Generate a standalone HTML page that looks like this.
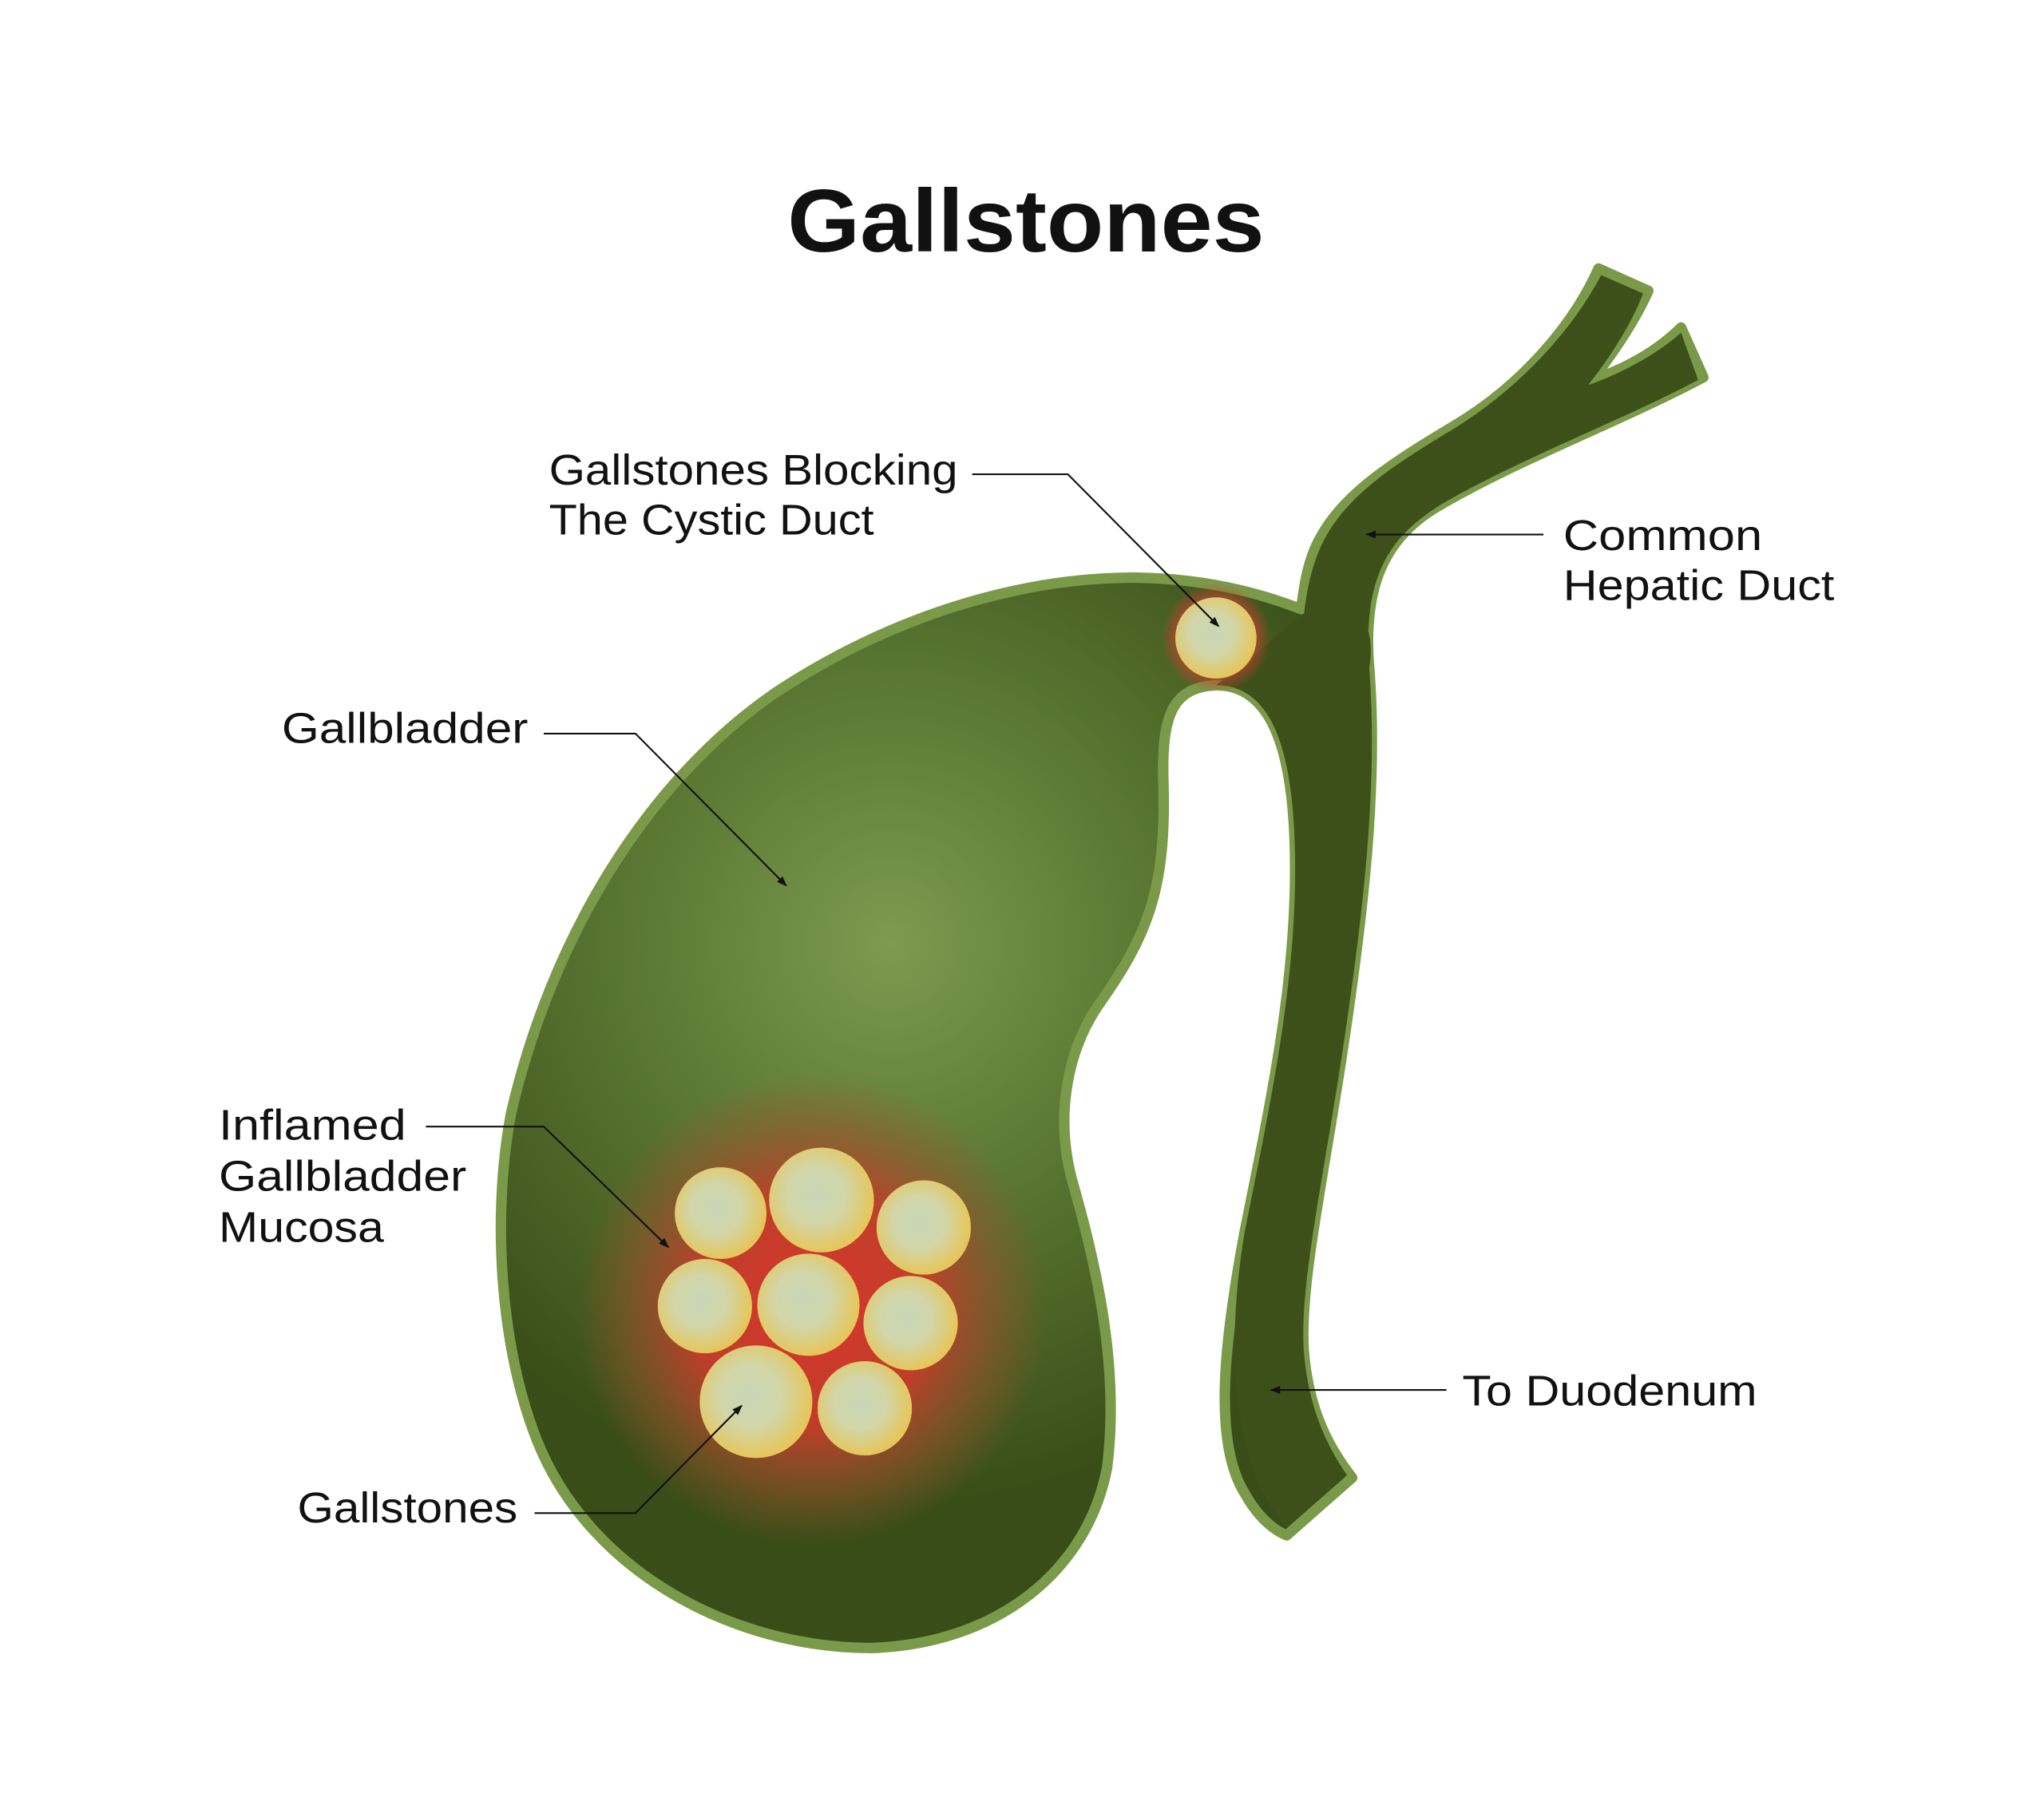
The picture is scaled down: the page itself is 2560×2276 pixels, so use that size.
<!DOCTYPE html>
<html><head><style>html,body{margin:0;padding:0;background:#fff}svg{display:block}</style></head>
<body>
<svg width="2560" height="2276" viewBox="0 0 1560 1387" preserveAspectRatio="none" xmlns="http://www.w3.org/2000/svg">
<defs>
<radialGradient id="g1" cx="680" cy="720" r="430" gradientUnits="userSpaceOnUse">
<stop offset="0" stop-color="#7e9a50"/><stop offset="0.4" stop-color="#5f7c36"/><stop offset="1" stop-color="#384d17"/>
</radialGradient>
<radialGradient id="red" cx="620" cy="1000" r="180" gradientUnits="userSpaceOnUse">
<stop offset="0" stop-color="#d8352a"/><stop offset="0.5" stop-color="#cc3a2a" stop-opacity="0.9"/><stop offset="0.8" stop-color="#a0502c" stop-opacity="0.45"/><stop offset="1" stop-color="#a0502c" stop-opacity="0"/>
</radialGradient>
<radialGradient id="st" cx="0.45" cy="0.45" r="0.55">
<stop offset="0" stop-color="#c9d5b8"/><stop offset="0.5" stop-color="#d2d6a8"/><stop offset="1" stop-color="#e6c65a"/>
</radialGradient>
<radialGradient id="rs" cx="928" cy="487" r="42" gradientUnits="userSpaceOnUse">
<stop offset="0.7" stop-color="#c84030" stop-opacity="0.7"/><stop offset="1" stop-color="#c84030" stop-opacity="0"/>
</radialGradient>
<marker id="a" markerWidth="8" markerHeight="8" refX="7" refY="4" orient="auto" markerUnits="userSpaceOnUse"><path d="M0,1 L8,4 L0,7 z" fill="#111"/></marker>
</defs>
<text x="601" y="192" textLength="364" lengthAdjust="spacingAndGlyphs" font-family="Liberation Sans, sans-serif" font-weight="bold" font-size="68" fill="#111">Gallstones</text>
<path d="M993,465 C960,452 920,442 870,441 C780,440 680,470 590,530 C490,600 420,720 390,850 C375,930 382,1030 410,1100 C450,1200 560,1258 665,1258 C760,1255 830,1200 845,1120 C855,1040 835,960 818,900 C805,850 815,800 840,765 C875,715 890,680 888,600 C886,545 895,525 928,523 C965,523 985,560 988,640 C992,740 970,840 950,940 C935,1020 925,1100 950,1140 C960,1158 972,1168 982,1172 L1032,1128 C1010,1100 998,1070 995,1030 C992,980 1010,900 1025,800 C1040,700 1052,600 1045,510 C1040,450 1055,410 1100,385 C1160,350 1240,320 1300,288 L1283,250 C1265,268 1240,282 1215,290 C1235,265 1250,240 1258,222 L1220,205 C1200,250 1160,295 1110,325 C1060,355 1020,380 1003,420 C997,435 995,450 993,465 Z" fill="url(#g1)" stroke="#7a9a4a" stroke-width="8" stroke-linejoin="round"/>
<path d="M995,470 C1040,450 1050,480 1045,510 C1052,600 1040,700 1025,800 C1010,900 992,980 995,1030 C998,1070 1010,1100 1028,1126 L982,1166 C940,1120 935,1030 950,940 C970,840 992,740 988,640 C985,560 965,523 928,523 C960,500 980,478 995,470 Z" fill="#3d5019"/>
<path d="M995,470 C1040,450 1050,480 1045,510 C1040,440 1060,410 1100,385 C1160,350 1240,320 1296,290 L1283,254 C1265,270 1240,284 1212,294 C1235,265 1248,240 1254,224 L1222,210 C1200,252 1160,296 1110,327 C1060,357 1022,382 1006,422 C999,440 997,455 995,470 Z" fill="#3d5019"/>
<circle cx="620" cy="1000" r="180" fill="url(#red)"/>
<circle cx="928" cy="487" r="42" fill="url(#rs)"/>
<g fill="url(#st)">
<circle cx="550" cy="926" r="35"/><circle cx="627" cy="916" r="40"/><circle cx="705" cy="937" r="36"/>
<circle cx="538" cy="997" r="36"/><circle cx="617" cy="996" r="39"/><circle cx="695" cy="1010" r="36"/>
<circle cx="577" cy="1070" r="43"/><circle cx="660" cy="1075" r="36"/><circle cx="928" cy="487" r="31"/>
</g>
<g fill="none" stroke="#111" stroke-width="1.3" marker-end="url(#a)">
<path d="M742,362 H815 L930,478"/>
<path d="M1178,408 H1043"/>
<path d="M415,560 H485 L600,676"/>
<path d="M325,860 H415 L510,952"/>
<path d="M408,1155 H485 L566,1073"/>
<path d="M1104,1061 H970"/>
</g>
<g font-family="Liberation Sans, sans-serif" font-size="33" fill="#111">
<text x="419" y="370" textLength="312" lengthAdjust="spacingAndGlyphs">Gallstones Blocking</text><text x="419" y="408" textLength="248" lengthAdjust="spacingAndGlyphs">The Cystic Duct</text>
<text x="1193" y="420" textLength="152" lengthAdjust="spacingAndGlyphs">Common</text><text x="1193" y="458" textLength="207" lengthAdjust="spacingAndGlyphs">Hepatic Duct</text>
<text x="215" y="567" textLength="188" lengthAdjust="spacingAndGlyphs">Gallbladder</text>
<text x="167" y="870" textLength="143" lengthAdjust="spacingAndGlyphs">Inflamed</text><text x="167" y="909" textLength="189" lengthAdjust="spacingAndGlyphs">Gallbladder</text><text x="167" y="948" textLength="126" lengthAdjust="spacingAndGlyphs">Mucosa</text>
<text x="227" y="1162" textLength="168" lengthAdjust="spacingAndGlyphs">Gallstones</text>
<text x="1116" y="1073" textLength="225" lengthAdjust="spacingAndGlyphs">To Duodenum</text>
</g>
</svg>
</body></html>
